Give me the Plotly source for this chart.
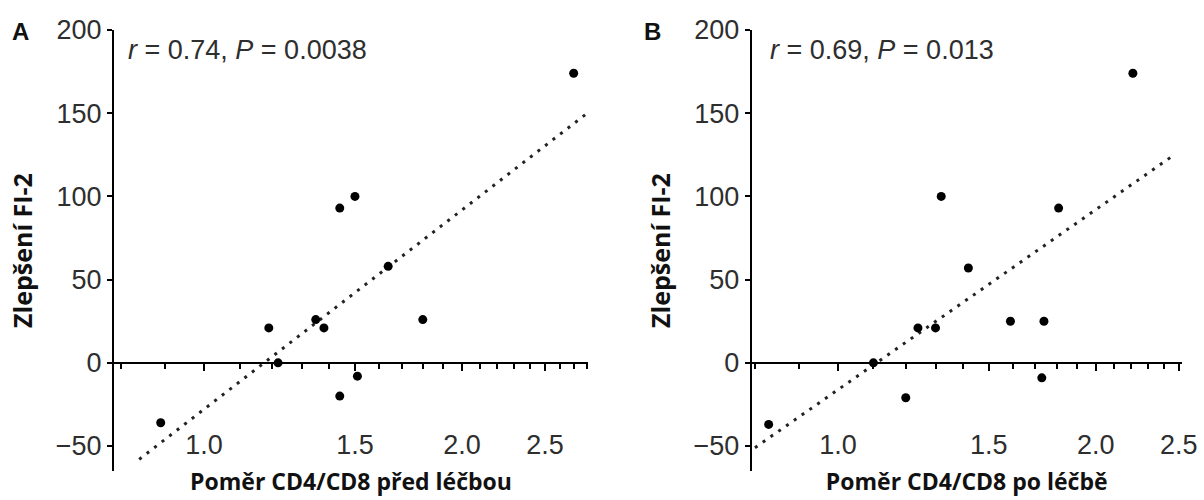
import math
import plotly.graph_objects as go

# ---------------- data ----------------
a_x = [0.89, 1.19, 1.22, 1.35, 1.38, 1.44, 1.51, 1.64, 1.80, 1.44, 1.50, 2.70]
a_y = [-36, 21, 0, 26, 21, -20, -8, 58, 26, 93, 100, 174]
a_fit_x = [0.84, 2.80]
a_fit_y = [-58, 150]

b_x = [0.83, 1.10, 1.20, 1.24, 1.30, 1.42, 1.59, 1.74, 1.73, 1.32, 1.81, 2.21]
b_y = [-37, 0, -21, 21, 21, 57, 25, 25, -9, 100, 93, 174]
b_fit_x = [0.80, 2.47]
b_fit_y = [-51, 125]

x_label_vals = [1.0, 1.5, 2.0, 2.5]
x_label_text = ["1.0", "1.5", "2.0", "2.5"]
x_minor_vals = [0.8, 0.9, 1.1, 1.2, 1.3, 1.4, 1.6, 1.7, 1.8, 1.9, 2.1, 2.2, 2.3, 2.4, 2.6, 2.7, 2.8]
y_tick_vals = [-50, 0, 50, 100, 150, 200]

a_stats = "<i>r</i> = 0.74, <i>P</i> = 0.0038"
b_stats = "<i>r</i> = 0.69, <i>P</i> = 0.013"
a_xtitle = "Poměr CD4/CD8 před léčbou"
b_xtitle = "Poměr CD4/CD8 po léčbě"
y_title = "Zlepšení FI-2"

# ---------------- layout constants ----------------
W, H = 1204, 500
FONT = "Liberation Sans, Arial, sans-serif"
TFONT = "Open Sans, sans-serif"
TXT = "#2e2e2e"
y_range = [-65, 200]
y_dom = [(H - 471) / H, (H - 30) / H]
a_dom = [114 / W, 588 / W]
b_dom = [751.7 / W, 1181.7 / W]
a_xr = [math.log10(0.785), math.log10(2.806)]
b_xr = [math.log10(0.793), math.log10(2.52)]
zero_pos = y_dom[0] + (0 - y_range[0]) / (y_range[1] - y_range[0]) * (y_dom[1] - y_dom[0])
label_pos = (H - 426) / H

fig = go.Figure()

dash = "3px,6.5px"
fig.add_trace(go.Scatter(x=a_fit_x, y=a_fit_y, mode="lines", xaxis="x", yaxis="y",
                         line=dict(color="#222", width=3, dash=dash), hoverinfo="skip"))
fig.add_trace(go.Scatter(x=a_x, y=a_y, mode="markers", xaxis="x", yaxis="y",
                         marker=dict(color="black", size=9)))
fig.add_trace(go.Scatter(x=b_fit_x, y=b_fit_y, mode="lines", xaxis="x2", yaxis="y2",
                         line=dict(color="#222", width=3, dash=dash), hoverinfo="skip"))
fig.add_trace(go.Scatter(x=b_x, y=b_y, mode="markers", xaxis="x2", yaxis="y2",
                         marker=dict(color="black", size=9)))
# invisible traces so the zero-line axes get drawn
fig.add_trace(go.Scatter(x=[x_label_vals[0]], y=[y_tick_vals[1]], mode="markers", xaxis="x3", yaxis="y",
                         marker=dict(opacity=0), hoverinfo="skip"))
fig.add_trace(go.Scatter(x=[x_label_vals[0]], y=[y_tick_vals[1]], mode="markers", xaxis="x4", yaxis="y2",
                         marker=dict(opacity=0), hoverinfo="skip"))


def label_axis(dom, rng, title):
    return dict(domain=dom, type="log", range=rng, anchor="free", position=label_pos,
                tickmode="array", tickvals=x_label_vals, ticktext=x_label_text,
                ticks="", showline=False, showgrid=False, zeroline=False,
                ticklabeloverflow="allow",
                tickfont=dict(family=FONT, size=27, color=TXT),
                title=dict(text=title, standoff=14,
                           font=dict(family=TFONT, size=23, color="#111", weight="bold")),
                automargin=False, fixedrange=True)


def zero_axis(dom, rng, over):
    return dict(domain=dom, type="log", range=rng, anchor="free", position=zero_pos,
                overlaying=over, side="bottom",
                tickmode="array", tickvals=x_label_vals, ticks="outside", ticklen=7,
                tickwidth=2, tickcolor="black", showticklabels=False,
                minor=dict(tickmode="array", tickvals=x_minor_vals, ticks="outside",
                           ticklen=5, tickwidth=2, tickcolor="black", showgrid=False),
                showline=True, linecolor="black", linewidth=2,
                showgrid=False, zeroline=False, automargin=False, fixedrange=True)


def y_axis(anchor):
    return dict(domain=y_dom, range=y_range, anchor=anchor,
                tickmode="array", tickvals=y_tick_vals, ticks="outside", ticklen=5,
                tickwidth=2, tickcolor="black", showline=True, linecolor="black", linewidth=2,
                showgrid=False, zeroline=False,
                tickfont=dict(family=FONT, size=27, color=TXT),
                title=dict(text=y_title, standoff=16,
                           font=dict(family=TFONT, size=25, color="#111", weight="bold")),
                automargin=False, fixedrange=True)


fig.update_layout(
    width=W, height=H,
    margin=dict(l=0, r=0, t=0, b=0),
    paper_bgcolor="white", plot_bgcolor="white",
    showlegend=False,
    xaxis=label_axis(a_dom, a_xr, a_xtitle),
    xaxis2=label_axis(b_dom, b_xr, b_xtitle),
    xaxis3=zero_axis(a_dom, a_xr, "x"),
    xaxis4=zero_axis(b_dom, b_xr, "x2"),
    yaxis=y_axis("x"),
    yaxis2=y_axis("x2"),
    annotations=[
        dict(text=a_stats, xref="paper", yref="paper", x=126 / W, y=1 - 50 / H,
             xanchor="left", yanchor="middle", showarrow=False,
             font=dict(family=FONT, size=27, color=TXT)),
        dict(text=b_stats, xref="paper", yref="paper", x=768 / W, y=1 - 50 / H,
             xanchor="left", yanchor="middle", showarrow=False,
             font=dict(family=FONT, size=27, color=TXT)),
        dict(text="<b>A</b>", xref="paper", yref="paper", x=20 / W, y=1 - 31 / H,
             xanchor="center", yanchor="middle", showarrow=False,
             font=dict(family=FONT, size=24, color="#111")),
        dict(text="<b>B</b>", xref="paper", yref="paper", x=652 / W, y=1 - 31 / H,
             xanchor="center", yanchor="middle", showarrow=False,
             font=dict(family=FONT, size=24, color="#111")),
    ],
)

fig.write_html("out.html")
